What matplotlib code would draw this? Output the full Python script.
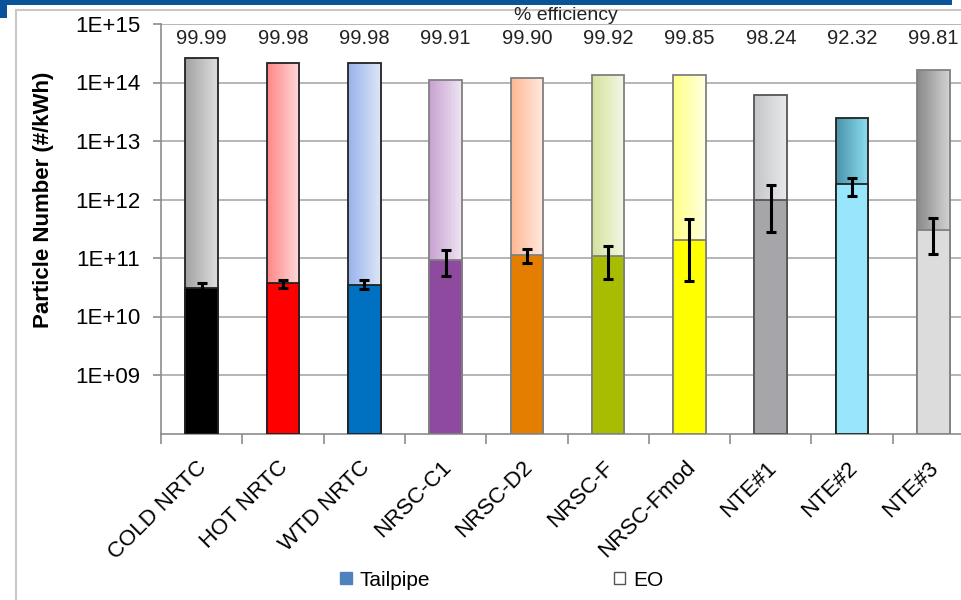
import matplotlib
matplotlib.use('Agg')
import matplotlib.pyplot as plt
import numpy as np
from matplotlib.colors import to_rgb
from matplotlib.patches import Patch, Rectangle
from matplotlib.lines import Line2D
import matplotlib.transforms as mtransforms

plt.rcParams['font.family'] = ['Liberation Sans', 'DejaVu Sans']

# data
categories = ['COLD NRTC', 'HOT NRTC', 'WTD NRTC', 'NRSC-C1', 'NRSC-D2',
              'NRSC-F', 'NRSC-Fmod', 'NTE#1', 'NTE#2', 'NTE#3']
eo = [2.6e14, 2.15e14, 2.15e14, 1.12e14, 1.2e14, 1.35e14, 1.37e14, 6.2e13, 2.45e13, 1.65e14]
tailpipe = [3.07e10, 3.73e10, 3.5e10, 9.4e10, 1.14e11, 1.07e11, 2.07e11, 1.0e12, 1.82e12, 3.07e11]
err_low = [0.5e10, 0.6e10, 0.5e10, 0.44e11, 0.31e11, 0.64e11, 1.66e11, 0.72e12, 0.65e12, 1.88e11]
err_high = [0.65e10, 0.55e10, 0.67e10, 0.45e11, 0.31e11, 0.56e11, 2.5e11, 0.74e12, 0.48e12, 1.8e11]
efficiency = ['99.99', '99.98', '99.98', '99.91', '99.90', '99.92', '99.85', '98.24', '92.32', '99.81']
ytick_vals = [1e9, 1e10, 1e11, 1e12, 1e13, 1e14, 1e15]
ytick_labels = ['1E+09', '1E+10', '1E+11', '1E+12', '1E+13', '1E+14', '1E+15']

# styling
tp_colors = ['#000000', '#ff0000', '#0070c0', '#8e4a9e', '#e37e00',
             '#a9bd00', '#ffff00', '#a6a6aa', '#98e6fb', '#dcdcdc']
eo_left = ['#a3a3a3', '#ff8686', '#98b3ea', '#c8a2d2', '#ffb792',
           '#d5e29c', '#ffff86', '#c5c6c9', '#4a93aa', '#8a8a8a']
eo_right = ['#dcdcdc', '#ffd6d6', '#dbe4f6', '#ede3f1', '#ffe8dc',
            '#f2f6e4', '#ffffde', '#e7e8e9', '#8adcee', '#d0d0d0']
edges = ['#222222', '#222222', '#222222', '#808080', '#808080',
         '#808080', '#808080', '#555555', '#222222', '#808080']

W, H = 962, 600
fig = plt.figure(figsize=(W / 100, H / 100), dpi=100)
fig.patch.set_facecolor('white')

# header band and frame
fig.add_artist(Rectangle((7 / W, 1 - 5 / H), 945 / W, 5 / H, transform=fig.transFigure,
                         color='#0b5399', lw=0))
fig.add_artist(Rectangle((0, 1 - 18 / H), 7 / W, 18 / H, transform=fig.transFigure,
                         color='#0b5399', lw=0))
fig.add_artist(Line2D([16 / W, 16 / W], [0, 1 - 10 / H], transform=fig.transFigure,
                      color='#c8c8c8', lw=1.5))
fig.add_artist(Line2D([16 / W, 1], [1 - 10 / H, 1 - 10 / H], transform=fig.transFigure,
                      color='#c8c8c8', lw=1.5))

ax_left = 161 / W
ax_w = 813 / W
ax_bot = (H - 433.5) / H
ax_top = (H - 24) / H
ax = fig.add_axes([ax_left, ax_bot, ax_w, ax_top - ax_bot])
ax.set_yscale('log')
ax.set_ylim(1e8, 1e15)
ax.set_xlim(-0.5, len(categories) - 0.5)

x = np.arange(len(categories))
bw = 0.4
n = 24
for i in range(len(categories)):
    c0 = np.array(to_rgb(eo_left[i]))
    c1 = np.array(to_rgb(eo_right[i]))
    for k in range(n):
        t = k / (n - 1)
        xs = x[i] - bw / 2 + (k + 0.5) * bw / n
        ax.bar(xs, eo[i] - 1e8, bottom=1e8, width=bw / n * 1.02,
               color=c0 * (1 - t) + c1 * t, lw=0, zorder=2)
    ax.bar(x[i], eo[i] - 1e8, bottom=1e8, width=bw, facecolor='none',
           edgecolor=edges[i], lw=1.3, zorder=3)

ax.bar(x, np.array(tailpipe) - 1e8, bottom=1e8, width=bw, color=tp_colors,
       edgecolor=edges, lw=1.3, zorder=4)
ax.errorbar(x, tailpipe, yerr=[err_low, err_high], fmt='none', ecolor='black',
            elinewidth=2.2, capsize=3.5, capthick=2.2, zorder=5)

# axes styling
for s in ['top', 'right']:
    ax.spines[s].set_visible(False)
for s in ['left', 'bottom']:
    ax.spines[s].set_color('#8c8c8c')
    ax.spines[s].set_linewidth(1.2)
ax.set_yticks(ytick_vals)
ax.set_yticklabels(ytick_labels, fontsize=16)
ax.yaxis.set_minor_locator(matplotlib.ticker.NullLocator())
ax.tick_params(axis='y', length=6, width=1.2, color='#8c8c8c', pad=9)
ax.grid(axis='y', color='#b0b0b0', lw=1.3, zorder=0)
ax.set_axisbelow(True)

ax.set_xticks(x)
ax.set_xticklabels(categories, fontsize=16, rotation=45, ha='right', va='top',
                   rotation_mode='anchor')
ax.tick_params(axis='x', which='major', length=0, pad=12)
ax.set_xticks(np.arange(len(categories) + 1) - 0.5, minor=True)
ax.tick_params(axis='x', which='minor', length=7, width=1.2, color='#8c8c8c')
shift = mtransforms.ScaledTranslation(-5 / 100, -7 / 100, fig.dpi_scale_trans)
for lab in ax.get_xticklabels():
    lab.set_transform(lab.get_transform() + shift)

# efficiency numbers
trans = mtransforms.blended_transform_factory(ax.transData, fig.transFigure)
for i, e in enumerate(efficiency):
    ax.text(x[i], 1 - 39 / H, e, transform=trans, ha='center', va='center',
            fontsize=14.5, color='#222222', clip_on=False)
fig.text(566 / W, 1 - 15 / H, '% efficiency', ha='center', va='center',
         fontsize=14, color='#222222')

fig.text(44 / W, 1 - 200 / H, 'Particle Number (#/kWh)', rotation=90,
         ha='center', va='center', fontsize=16, fontweight='bold')

handles = [Patch(facecolor='#4f81bd', edgecolor='#4f81bd'),
           Patch(facecolor='white', edgecolor='#555555')]
fig.legend(handles, ['Tailpipe', 'EO'], loc='center', bbox_to_anchor=(502 / W, 1 - 580 / H),
           ncol=2, frameon=False, fontsize=15, handlelength=0.55, handleheight=0.55,
           handletextpad=0.4, columnspacing=8.8)

fig.savefig('out.png', dpi=100, facecolor='white')
